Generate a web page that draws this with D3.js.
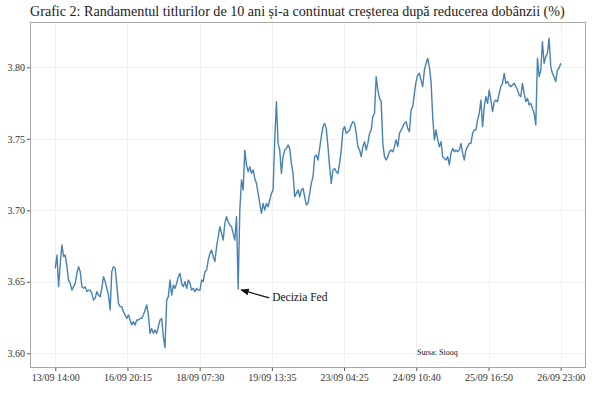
<!DOCTYPE html>
<html>
<head>
<meta charset="utf-8">
<script src="https://cdn.jsdelivr.net/npm/d3@7"></script>
<style>
  html, body { margin: 0; padding: 0; background: #fff; }
  svg { display: block; }
  text { font-family: "Liberation Serif", "DejaVu Serif", serif; }
</style>
</head>
<body>
<svg id="chart" width="600" height="399"></svg>
<script>
// ---- data ----
const title = "Grafic 2: Randamentul titlurilor de 10 ani și-a continuat creșterea după reducerea dobânzii (%)";
const tickLabels = ["13/09 14:00", "16/09 20:15", "18/09 07:30", "19/09 13:35", "23/09 04:25", "24/09 10:40", "25/09 16:50", "26/09 23:00"];
const yTicks = [3.60, 3.65, 3.70, 3.75, 3.80];
const sourceText = "Sursa: Stooq";
const annotationText = "Decizia Fed";
const fedIndex = 110; // observation of the Fed decision

// yield (%) of 10-year notes, evenly spaced observations
const yields1 = [3.6594,3.6687,3.6466,3.6629,3.6757,3.6676,3.6687,3.6606,3.6512,3.6489,
3.6442,3.6466,3.6489,3.6559,3.6606,3.6571,3.6466,3.6454,3.6466,3.6431,
3.6442,3.6442,3.6419,3.6372,3.6384,3.6431,3.6407,3.6396,3.6454,3.6536,
3.6501,3.6454,3.6407,3.6303,3.6571,3.6606,3.6594,3.6477,3.6349,3.6326,
3.6326,3.6291,3.6268,3.6244,3.6268,3.6233,3.6198,3.6221,3.6198,3.6233,
3.6233,3.6244,3.6244,3.6268,3.6303,3.6338,3.6268,3.6139,3.6174,3.6139,
3.6163,3.6139,3.6186,3.6233,3.6244,3.6116,3.6040,3.6372,3.6396,3.6512,
3.6407,3.6477,3.6454,3.6489,3.6536,3.6559,3.6489,3.6466,3.6501,3.6454,
3.6512,3.6489,3.6442,3.6454,3.6431,3.6454,3.6442,3.6442];
const yields2 = [3.6512,3.6501,3.6571,3.6582,3.6652,3.6699,3.6722,3.6675,3.6641,3.6745,
3.6815,3.6885,3.6839,3.6792,3.6909,3.6955,3.6920,3.6897,3.6885,3.6839,
3.6792,3.6955,3.6450,3.7002,3.7212,3.7142,3.7421,3.7317,3.7270,3.7305,
3.7258,3.7282,3.7223,3.7188,3.7118,3.7048,3.6979,3.7048,3.7002,3.7048,
3.7025,3.7072,3.7118,3.7142,3.7491,3.7759,3.7468,3.7421,3.7258,3.7375,
3.7421,3.7433,3.7456,3.7433,3.7328,3.7258,3.7095,3.7118,3.7142,3.7095,
3.7142,3.7153,3.7095,3.7037,3.7048,3.7118,3.7188,3.7235,3.7375,3.7386,
3.7351,3.7433,3.7515,3.7585,3.7608,3.7573,3.7445,3.7305,3.7188,3.7282,
3.7293,3.7270,3.7258,3.7328,3.7421,3.7561,3.7585];
const yields3 = [3.7538,3.7550,3.7562,3.7597,3.7620,3.7608,3.7538,3.7445,3.7422,3.7375,
3.7445,3.7480,3.7422,3.7468,3.7538,3.7562,3.7655,3.7678,3.7935,3.7841,
3.7783,3.7760,3.7468,3.7375,3.7352,3.7375,3.7410,3.7422,3.7410,3.7445,
3.7492,3.7445,3.7538,3.7562,3.7585,3.7608,3.7620,3.7573,3.7550,3.7702,
3.7725,3.7818,3.7900,3.7946,3.7958,3.7911,3.7865,3.7981,3.8028,3.8063,
3.8004,3.7900,3.7655,3.7492,3.7562,3.7492,3.7445,3.7480,3.7375,3.7363,
3.7352,3.7375,3.7317,3.7398,3.7433,3.7410,3.7422,3.7410,3.7422,3.7468,
3.7398,3.7352,3.7422,3.7445,3.7468];
const yields4 = [3.7468,3.7538,3.7562,3.7562,3.7632,3.7678,3.7771,3.7585,3.7725,3.7795,
3.7748,3.7841,3.7771,3.7690,3.7760,3.7771,3.7760,3.7818,3.7865,3.7888,
3.7958,3.7888,3.7900,3.7876,3.7865,3.7876,3.7888,3.7865,3.7841,3.7806,
3.7795,3.7888,3.7818,3.7760,3.7783,3.7737,3.7748,3.7713,3.7678,3.7597,
3.8063,3.7935,3.7981,3.8179,3.8028,3.8075,3.8098,3.8203,3.8005,3.7958,
3.7935,3.7900,3.7981,3.7993,3.8028];
const yieldDomain = [3.5897, 3.8317]; // axis limits

// ---- build ----
const yields = [].concat(yields1, yields2, yields3, yields4);
const data = yields.map((v, i) => ({ i, v }));
const n = yields.length - 1;

const W = 600, H = 399;
const plot = { left: 30, right: 586, top: 22, bottom: 368 };
const svg = d3.select("#chart");

const pad = n * 0.05;
const x = d3.scaleLinear().domain([-pad, n + pad]).range([plot.left, plot.right]);
const y = d3.scaleLinear().domain(yieldDomain).range([plot.bottom, plot.top]);

const tickPos = tickLabels.map((_, k) => k * n / (tickLabels.length - 1));

// title
const t = svg.append("text")
  .attr("x", 30).attr("y", 16)
  .attr("fill", "#222")
  .style("font-size", "13px")
  .text(title);
const tw = t.node().getComputedTextLength();
t.style("font-size", (13 * 535 / tw).toFixed(2) + "px");

// grid
const g = svg.append("g");
g.selectAll("line.gy").data(yTicks).join("line")
  .attr("x1", plot.left).attr("x2", plot.right)
  .attr("y1", d => Math.round(y(d)) + 0.5).attr("y2", d => Math.round(y(d)) + 0.5)
  .attr("stroke", "#f0f0f0").attr("stroke-width", 1);
g.selectAll("line.gx").data(tickPos).join("line")
  .attr("y1", plot.top).attr("y2", plot.bottom)
  .attr("x1", d => Math.round(x(d)) + 0.5).attr("x2", d => Math.round(x(d)) + 0.5)
  .attr("stroke", "#f0f0f0").attr("stroke-width", 1);

// line
const line = d3.line().x(d => x(d.i)).y(d => y(d.v));
svg.append("path").datum(data)
  .attr("d", line)
  .attr("fill", "none")
  .attr("stroke", "#4682b4")
  .attr("stroke-width", 1.4)
  .attr("stroke-linejoin", "round");

// panel border
svg.append("rect")
  .attr("x", plot.left + 0.5).attr("y", plot.top + 0.5)
  .attr("width", plot.right - plot.left - 1).attr("height", plot.bottom - plot.top - 1)
  .attr("fill", "none").attr("stroke", "#a6a6a6").attr("stroke-width", 1);

// axes
const xAxis = d3.axisBottom(x).tickValues(tickPos)
  .tickFormat((d, k) => tickLabels[k]).tickSize(3).tickPadding(3);
const gx = svg.append("g").attr("transform", `translate(0,${plot.bottom})`).call(xAxis);
const yAxis = d3.axisLeft(y).tickValues(yTicks).tickFormat(d3.format(".2f")).tickSize(3).tickPadding(2);
const gy = svg.append("g").attr("transform", `translate(${plot.left},0)`).call(yAxis);
[gx, gy].forEach(a => {
  a.select(".domain").remove();
  a.selectAll(".tick line").attr("stroke", "#555");
  a.selectAll(".tick text").attr("fill", "#333")
    .style("font-family", '"Liberation Serif", serif').style("font-size", "10px");
});

// annotation
const defs = svg.append("defs");
defs.append("marker").attr("id", "arrow")
  .attr("viewBox", "0 0 10 10").attr("refX", 9).attr("refY", 5)
  .attr("markerWidth", 7).attr("markerHeight", 7).attr("orient", "auto")
  .append("path").attr("d", "M0,1 L10,5 L0,9 Z").attr("fill", "#111");
const fx = x(fedIndex), fy = y(yields[fedIndex]);
svg.append("line")
  .attr("x1", fx + 31).attr("y1", fy + 9)
  .attr("x2", fx + 3).attr("y2", fy + 1)
  .attr("stroke", "#111").attr("stroke-width", 1.2)
  .attr("marker-end", "url(#arrow)");
svg.append("text")
  .attr("x", fx + 34).attr("y", fy + 12)
  .attr("fill", "#111").style("font-size", "11.5px")
  .text(annotationText);

// source
svg.append("text")
  .attr("x", 417).attr("y", 355)
  .attr("fill", "#222").style("font-size", "8px")
  .text(sourceText);
</script>
</body>
</html>
